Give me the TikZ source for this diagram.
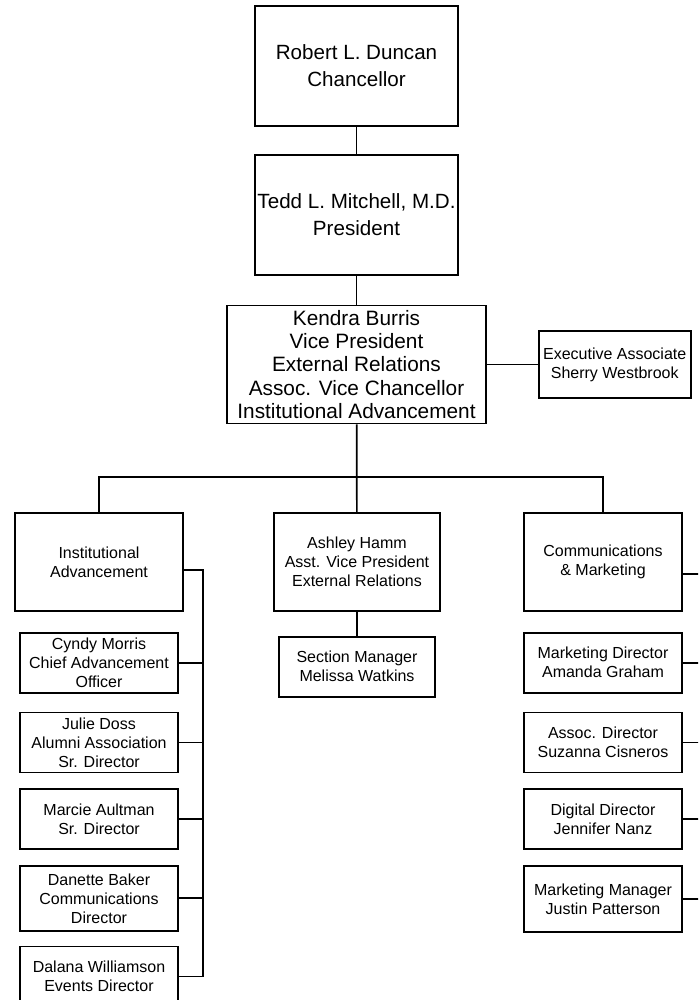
\documentclass[tikz,border=0pt]{standalone}
\usepackage{fontspec}
\setmainfont{Liberation Sans}
\usepackage{tikz}
\usetikzlibrary{positioning}

\begin{document}
\begin{tikzpicture}[
	x=1pt, y=-1pt,
	line width=1.7pt,
	box/.style={draw, align=center, inner sep=0pt},
	topbox/.style={box, minimum width=203pt, minimum height=120pt, font=\fontsize{20.6}{27}\selectfont},
	vpbox/.style={box, minimum width=259pt, minimum height=118pt, font=\fontsize{20.8}{23.2}\selectfont},
	unitbox/.style={box, minimum height=98pt, font=\fontsize{16}{19}\selectfont},
	staffbox/.style={box, minimum width=158pt, minimum height=60pt, font=\fontsize{16}{19}\selectfont}
	]
	\useasboundingbox (0,0) rectangle (698,1000);
	\clip (0,0) rectangle (698,1000);
	\node[topbox] (chanc) at (356.5,66) {Robert L. Duncan\\Chancellor};
	\node[topbox] (pres) [below=27pt of chanc] {Tedd L. Mitchell, M.D.\\President};
	\node[vpbox] (vp) [below=29pt of pres] {Kendra Burris\\Vice President\\External Relations\\Assoc. Vice Chancellor\\Institutional Advancement};
	\node[box, minimum width=152pt, minimum height=67pt, font=\fontsize{16}{19}\selectfont] (exec) [right=51pt of vp] {Executive Associate\\Sherry Westbrook};
	% three units
	\node[unitbox, minimum width=168pt] (inst) at (99,562) {Institutional\\Advancement};
	\node[unitbox, minimum width=166pt] (ashley) at (357,562) {Ashley Hamm\\Asst. Vice President\\External Relations};
	\node[unitbox, minimum width=158pt] (comm) at (603,562) {Communications\\\& Marketing};
	\node[staffbox, minimum width=156pt] (secmgr) [below=24pt of ashley] {Section Manager\\Melissa Watkins};
	% left column
	\node[staffbox] (cyndy) [below=20pt of inst] {Cyndy Morris\\Chief Advancement\\Officer};
	\node[staffbox] (julie) [below=18pt of cyndy] {Julie Doss\\Alumni Association\\Sr. Director};
	\node[staffbox] (marcie) [below=15pt of julie] {Marcie Aultman\\Sr. Director};
	\node[staffbox, minimum height=65pt] (danette) [below=15pt of marcie] {Danette Baker\\Communications\\Director};
	\node[staffbox] (dalana) [below=14pt of danette] {Dalana Williamson\\Events Director};
	% right column
	\node[staffbox] (mktdir) [below=20pt of comm] {Marketing Director\\Amanda Graham};
	\node[staffbox] (assoc) [below=18pt of mktdir] {Assoc. Director\\Suzanna Cisneros};
	\node[staffbox] (digital) [below=15pt of assoc] {Digital Director\\Jennifer Nanz};
	\node[staffbox, minimum height=66pt] (mktmgr) [below=15pt of digital] {Marketing Manager\\Justin Patterson};
	\coordinate (split) at (357,477);
	\coordinate (lspine) at (203,0);
	\coordinate (rspine) at (712,0);
	\draw (chanc) -- (pres);
	\draw (pres) -- (vp);
	\draw (vp) -- (exec);
	\draw (vp) -- (ashley);
	\draw (ashley) -- (secmgr);
	\draw (inst.north) |- (split) -| (comm.north);
	\draw ([yshift=-8pt]inst.east) -| (lspine |- dalana.east) -- (dalana.east);
	\foreach \n in {cyndy,julie,marcie,danette}
		\draw (\n.east) -- (\n.east -| lspine);
	\draw ([yshift=-12pt]comm.east) -| (rspine |- mktmgr.east) -- (mktmgr.east);
	\foreach \n in {mktdir,assoc,digital}
		\draw (\n.east) -- (\n.east -| rspine);
\end{tikzpicture}
\end{document}
